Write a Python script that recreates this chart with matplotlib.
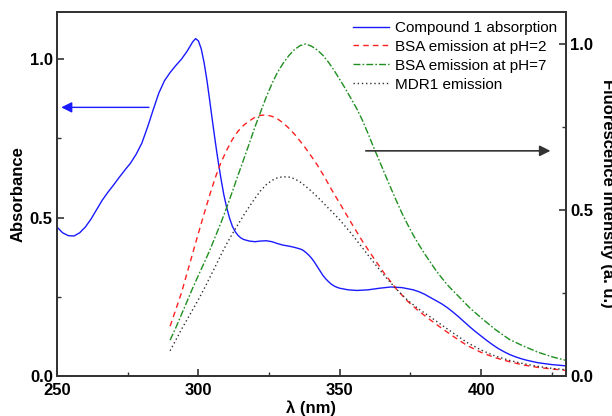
import matplotlib
matplotlib.use("Agg")
import matplotlib.pyplot as plt

plt.rcParams['font.family'] = ['Liberation Sans', 'DejaVu Sans']

# ---- data ----
abs_x = [250, 252, 254, 256, 258, 260, 262, 264, 266, 268, 270, 272, 274, 276, 278, 280,
         282, 284, 286, 288, 290, 292, 294, 296, 297, 298, 299, 300, 301, 302, 303, 304,
         305, 306, 307, 308, 309, 310, 311, 312, 313, 314, 315, 316, 318, 320, 322, 324,
         326, 328, 330, 332, 334, 336, 337, 338, 339, 340, 341, 342, 343, 344, 345, 346,
         347, 348, 349, 350, 353, 356, 360, 364, 368, 372, 376, 378, 380, 382, 384, 386,
         388, 390, 392, 394, 396, 398, 400, 402, 404, 406, 408, 410, 412, 414, 416, 418,
         420, 425, 430]
abs_y = [0.47, 0.452, 0.443, 0.442, 0.452, 0.47, 0.495, 0.525, 0.555, 0.58, 0.603, 0.627,
         0.65, 0.672, 0.70, 0.735, 0.785, 0.84, 0.893, 0.932, 0.958, 0.98, 1.0, 1.025,
         1.04, 1.055, 1.065, 1.058, 1.033, 0.99, 0.935, 0.87, 0.803, 0.738, 0.677, 0.622,
         0.572, 0.532, 0.499, 0.473, 0.456, 0.444, 0.436, 0.431, 0.426, 0.424, 0.426,
         0.427, 0.424, 0.418, 0.413, 0.41, 0.406, 0.401, 0.397, 0.39, 0.382, 0.372, 0.36,
         0.346, 0.332, 0.318, 0.307, 0.298, 0.29, 0.284, 0.28, 0.277, 0.272, 0.27, 0.272,
         0.277, 0.281, 0.279, 0.272, 0.266, 0.258, 0.248, 0.238, 0.228, 0.216, 0.202,
         0.187, 0.171, 0.155, 0.14, 0.126, 0.112, 0.099, 0.087, 0.077, 0.068, 0.061,
         0.055, 0.05, 0.046, 0.042, 0.036, 0.032]

em_x = [290, 292, 294, 296, 298, 300, 302, 304, 306, 308, 310, 312, 314, 316, 318, 320,
        322, 324, 326, 328, 330, 332, 334, 336, 338, 340, 342, 344, 346, 348, 350, 354,
        358, 362, 366, 370, 374, 378, 382, 386, 390, 395, 400, 405, 410, 415, 420, 425, 430]
bsa2_y = [0.15, 0.20, 0.25, 0.31, 0.37, 0.43, 0.488, 0.545, 0.598, 0.643, 0.68, 0.712,
          0.737, 0.755, 0.768, 0.779, 0.785, 0.786, 0.782, 0.774, 0.762, 0.746, 0.728,
          0.707, 0.685, 0.661, 0.636, 0.608, 0.578, 0.548, 0.52, 0.462, 0.406, 0.355,
          0.306, 0.262, 0.225, 0.195, 0.169, 0.144, 0.12, 0.092, 0.071, 0.055, 0.043,
          0.033, 0.026, 0.021, 0.017]
mdr1_y = [0.076, 0.108, 0.14, 0.17, 0.20, 0.23, 0.262, 0.296, 0.33, 0.365, 0.398, 0.428,
          0.456, 0.484, 0.51, 0.535, 0.558, 0.576, 0.589, 0.597, 0.60, 0.599, 0.594,
          0.584, 0.571, 0.556, 0.54, 0.523, 0.505, 0.488, 0.47, 0.43, 0.386, 0.342, 0.30,
          0.262, 0.228, 0.201, 0.178, 0.154, 0.13, 0.101, 0.078, 0.06, 0.047, 0.037,
          0.029, 0.023, 0.019]

bsa7_x = [290, 292, 294, 296, 298, 300, 302, 304, 306, 308, 310, 312, 314, 316, 318, 320,
          322, 324, 326, 328, 330, 332, 334, 336, 338, 340, 342, 344, 346, 348, 350, 352,
          354, 356, 358, 360, 362, 364, 366, 368, 370, 372, 374, 376, 378, 380, 382, 384,
          386, 388, 390, 392, 394, 396, 398, 400, 405, 410, 415, 420, 425, 430]
bsa7_y = [0.108, 0.145, 0.185, 0.225, 0.265, 0.303, 0.34, 0.378, 0.42, 0.462, 0.507,
          0.555, 0.604, 0.652, 0.70, 0.75, 0.795, 0.84, 0.88, 0.915, 0.942, 0.965, 0.983,
          0.995, 1.0, 0.993, 0.982, 0.966, 0.945, 0.92, 0.893, 0.865, 0.835, 0.805, 0.77,
          0.73, 0.688, 0.648, 0.607, 0.567, 0.528, 0.49, 0.456, 0.424, 0.395, 0.368,
          0.343, 0.318, 0.296, 0.275, 0.257, 0.24, 0.222, 0.205, 0.19, 0.175, 0.14, 0.11,
          0.09, 0.072, 0.058, 0.047]

labels = ["Compound 1 absorption", "BSA emission at pH=2",
          "BSA emission at pH=7", "MDR1 emission"]

# ---- figure ----
fig = plt.figure(figsize=(6.12, 4.16), dpi=100)
ax1 = fig.add_axes([57/612, 40/416, 509/612, 364.3/416])
ax2 = ax1.twinx()

l1, = ax1.plot(abs_x, abs_y, color='#1a1aff', lw=1.0, label=labels[0])
l2, = ax2.plot(em_x, bsa2_y, color='#ff2020', lw=1.0, ls=(0, (4, 3)), label=labels[1])
l3, = ax2.plot(bsa7_x, bsa7_y, color='#1f8f1f', lw=1.0, ls=(0, (5, 1.5, 1.2, 1.5)),
               label=labels[2])
l4, = ax2.plot(em_x, mdr1_y, color='#303030', lw=1.0, ls=(0, (1, 2)), label=labels[3])

ax1.set_xlim(250, 430)
ax1.set_ylim(0, 1.15)
ax2.set_ylim(0, 1.097)

ax1.set_xticks([250, 300, 350, 400])
ax1.set_xticks([275, 325, 375, 425], minor=True)
ax1.set_yticks([0.0, 0.5, 1.0])
ax1.set_yticks([0.25, 0.75], minor=True)
ax2.set_yticks([0.0, 0.5, 1.0])
ax2.set_yticks([0.25, 0.75], minor=True)
ax1.set_yticklabels(['0.0', '0.5', '1.0'])
ax2.set_yticklabels(['0.0', '0.5', '1.0'])

for ax in (ax1, ax2):
    ax.tick_params(which='major', direction='in', length=5, width=1.2,
                   labelsize=12, pad=3, color='#333333')
    ax.tick_params(which='minor', direction='in', length=3, width=1.0, color='#333333')
    for lab in ax.get_xticklabels() + ax.get_yticklabels():
        lab.set_fontweight('bold')
    for sp in ax.spines.values():
        sp.set_linewidth(1.3)
        sp.set_color('#333333')
ax1.tick_params(axis='y', which='both', right=False)
ax1.tick_params(axis='x', which='both', top=False)
ax1.tick_params(axis='x', which='major', pad=5)

ax1.set_xlabel('λ (nm)', fontsize=12, fontweight='bold')
ax1.xaxis.set_label_coords(0.5, -0.068)
ax1.set_ylabel('Absorbance', fontsize=12, fontweight='bold')
ax1.yaxis.set_label_coords(-0.062, 0.5)
ax2.set_ylabel('Fluorescence intensity (a. u.)', fontsize=12, fontweight='bold',
               rotation=270, va='center')
ax2.yaxis.set_label_coords(1.082, 0.5)

# arrows
ax1.annotate('', xy=(251.5, 0.848), xytext=(282.5, 0.848),
             arrowprops=dict(arrowstyle='-|>', color='#1a1aff', lw=1.0,
                             mutation_scale=16, shrinkA=0, shrinkB=0))
ax2.annotate('', xy=(424.5, 0.678), xytext=(359.2, 0.678),
             arrowprops=dict(arrowstyle='-|>', color='#333333', lw=1.2,
                             mutation_scale=16, shrinkA=0, shrinkB=0))

leg = ax2.legend(handles=[l1, l2, l3, l4], loc='upper right', frameon=False,
                 fontsize=11, handlelength=2.3, handletextpad=0.4,
                 labelspacing=0.32, borderaxespad=0.4, borderpad=0.2)

fig.savefig('out.png', dpi=100)
